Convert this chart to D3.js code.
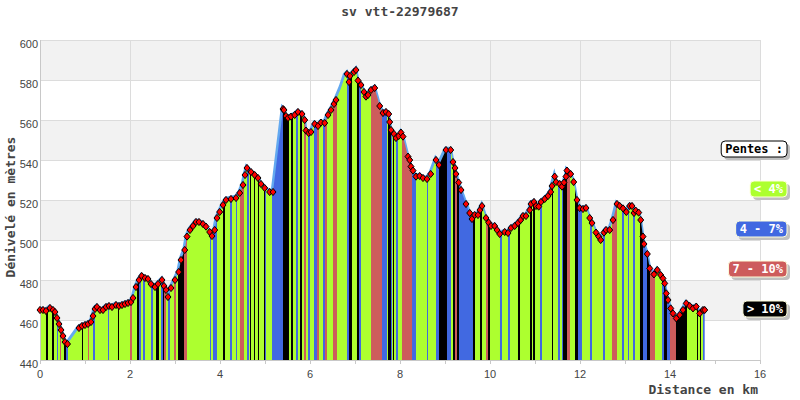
<!DOCTYPE html>
<html><head><meta charset="utf-8">
<script src="https://cdn.jsdelivr.net/npm/d3@7"></script>
<style>body{margin:0;background:#fff}svg{display:block}</style>
</head><body><svg id="c" width="800" height="400"></svg>
<script>
const title = "sv vtt-22979687";
const xTitle = "Distance en km";
const yTitle = "Dénivelé en mètres";
const xTicks = [0,1,2,3,4,5,6,7,8,9,10,11,12,13,14,15,16];
const xTickLabels = ["0","","2","","4","","6","","8","","10","","12","","14","","16"];
const yTicks = [440,460,480,500,520,540,560,580,600];
const slopeLabels = ["< 4%","4 - 7%","7 - 10%","> 10%"];
const slopeColors = ["#adff2f","#4169e1","#cd5c5c","#000000"];

const distKm = [
0,0.067,0.133,0.222,0.289,0.333,0.378,0.422,0.467,0.511,
0.556,0.611,0.867,0.933,1.0,1.067,1.133,1.178,1.222,1.267,
1.333,1.4,1.467,1.533,1.6,1.689,1.756,1.822,1.889,1.956,
2.022,2.067,2.133,2.2,2.26,2.333,2.4,2.467,2.556,2.622,
2.711,2.756,2.8,2.844,2.911,3.0,3.082,3.133,3.216,3.267,
3.333,3.4,3.467,3.533,3.622,3.689,3.771,3.822,3.882,3.933,
3.993,4.067,4.133,4.244,4.356,4.438,4.511,4.556,4.6,4.689,
4.771,4.844,4.911,4.993,5.104,5.178,5.4,5.422,5.467,5.511,
5.578,5.66,5.733,5.822,5.882,5.911,5.971,6.022,6.104,6.178,
6.244,6.327,6.4,6.467,6.533,6.578,6.689,6.778,6.822,6.867,
6.889,6.978,7.022,7.067,7.133,7.2,7.244,7.289,7.356,7.438,
7.549,7.622,7.689,7.749,7.771,7.8,7.867,7.911,7.971,8.022,
8.067,8.178,8.216,8.244,8.289,8.356,8.438,8.511,8.6,8.682,
8.8,8.867,9.022,9.127,9.178,9.222,9.244,9.304,9.356,9.467,
9.549,9.6,9.66,9.733,9.778,9.822,9.911,9.971,10.022,10.104,
10.156,10.216,10.327,10.4,10.467,10.549,10.622,10.682,10.733,10.8,
10.882,10.911,10.978,11.022,11.082,11.133,11.216,11.289,11.349,11.378,
11.438,11.467,11.549,11.6,11.644,11.689,11.711,11.793,11.86,11.933,
11.993,12.067,12.133,12.216,12.267,12.356,12.416,12.46,12.533,12.578,
12.66,12.733,12.822,12.882,12.956,13.029,13.104,13.156,13.2,13.238,
13.304,13.349,13.4,13.422,13.496,13.549,13.644,13.718,13.793,13.844,
13.882,13.918,13.956,14.016,14.067,14.14,14.216,14.289,14.362,14.438,
14.511,14.584,14.66,14.733,14.771];

const elevM = [
465,465,464.5,466,465,464,461,458,455,452,
449,448,456,457,457.5,458,459,462,465.5,466.5,
465,465,466.5,467,466.5,467.5,467,467.5,468,468.5,
469,471,476.5,480,482,481,480.5,478,476.5,478,
480,477,475,471.5,476,480,484,490,495,501.7,
505,507,509,509,508,506.7,504,502,505,511,
514,517.5,520,520.5,521,523.5,527.5,532.5,536,534,
532.5,531,528,526,524,524,565.5,565,562,561,
561.7,562.5,564,563,560,554.7,553.5,554,558,557,
558.7,558.5,562.5,565,568,570,576,582,583,579,
582,584,585,579.7,577.5,574,571.7,572.5,575,576,
567,563.5,564,563,559,555,553,551,552,553.7,
551.7,541.7,540,536.7,534.7,531.7,532,531,530.5,533,
540,537.5,545,545,539,536,533,528.7,525,518,
513.5,510.5,512.5,512.5,515,517,511,508.7,507,507,
505,503,504,503.5,506,507,508.5,510,512,512,
515,518,519,517,516.7,519,520.5,522,524,527,
531.7,529,528,526.7,528.7,531.7,534.7,533,529,520,
516,515.5,516,511,508.5,503.7,501.7,500,503.7,505,
505,510,518,517,515.8,514,517,517,513.5,514.7,
513.7,510,501.7,498,493,485.8,482.8,485,482.5,480.8,
478.3,473.3,470,465.8,463.3,460.8,462.5,465,468.3,467,
465.8,466.7,463.3,465,465];

// indices of profile points drawn without a marker
const unmarked = [96, 97];

// slope bands: start distance (km) and class (0:<4%, 1:4-7%, 2:7-10%, 3:>10%)
const bandStartKm = [
0,0.133,0.178,0.267,0.311,0.378,0.4,0.444,0.467,0.533,
0.578,0.622,0.933,0.956,1.067,1.089,1.178,1.222,1.511,1.533,
1.733,1.756,2.0,2.044,2.156,2.2,2.244,2.289,2.333,2.467,
2.511,2.578,2.644,2.689,2.733,2.756,2.8,2.844,2.889,2.978,
3.022,3.067,3.2,3.267,3.778,3.8,3.844,3.933,4.067,4.111,
4.222,4.267,4.356,4.378,4.444,4.533,4.6,4.644,4.667,4.689,
4.756,4.778,4.844,4.867,4.978,5.0,5.022,5.156,5.4,5.533,
5.578,5.622,5.689,5.733,5.778,5.822,5.867,5.911,5.956,6.0,
6.089,6.156,6.2,6.289,6.333,6.378,6.511,6.6,6.822,6.867,
6.933,7.044,7.089,7.133,7.356,7.6,7.711,7.733,7.8,7.822,
7.844,7.867,7.911,7.956,8.044,8.267,8.356,8.6,8.622,8.8,
8.867,9.044,9.133,9.178,9.222,9.267,9.311,9.622,9.667,9.778,
9.822,9.911,9.956,10.0,10.222,10.267,10.4,10.444,10.622,10.667,
10.889,10.933,10.956,11.0,11.111,11.156,11.378,11.4,11.511,11.556,
11.6,11.622,11.711,11.778,11.889,11.956,12.044,12.222,12.267,12.511,
12.556,12.711,12.822,12.933,12.978,13.067,13.089,13.178,13.222,13.333,
13.4,13.489,13.556,13.667,13.822,13.867,13.933,14.0,14.133,14.378,
14.6,14.622,14.667,14.689,14.733];
const bandClass = [
0,3,0,3,0,1,0,2,0,3,
1,0,3,0,2,0,1,0,1,0,
3,0,2,0,3,1,0,1,0,1,
0,3,0,1,3,2,0,1,0,2,
0,3,2,0,1,0,1,0,3,0,
1,0,1,0,2,0,1,0,3,0,
3,0,3,0,3,1,0,1,3,0,
3,0,1,0,3,0,2,0,1,0,
1,2,0,1,2,0,2,0,1,3,
0,3,1,0,2,1,0,3,1,0,
3,0,1,0,2,1,0,1,0,1,
3,1,0,3,2,3,1,3,0,3,
0,2,3,0,1,0,1,0,3,0,
3,0,3,0,1,0,3,0,1,0,
1,3,2,0,3,1,0,1,0,1,
0,2,0,1,0,1,0,1,0,3,
1,3,2,0,1,3,1,2,3,0,
3,0,3,0,1];

const svg = d3.select("#c");
const x = d3.scaleLinear().domain([0,16]).range([40,760]);
const y = d3.scaleLinear().domain([440,600]).range([360,40]);
const mono = "'DejaVu Sans Mono', monospace";
const sans = "'Liberation Sans', Arial, sans-serif";

// background stripes
svg.append("g").selectAll("rect").data(yTicks.slice(0,-1)).join("rect")
  .attr("x", x(0)).attr("width", x(16)-x(0))
  .attr("y", d => y(d+20)).attr("height", d => y(d)-y(d+20))
  .attr("fill", (d,i) => i % 2 === 1 ? "#f2f2f2" : "#ffffff");

// grid
const grid = svg.append("g").attr("stroke", "#dcdcdc").attr("stroke-width", 1).attr("shape-rendering","crispEdges");
grid.selectAll("line.h").data(yTicks).join("line").attr("class","h")
  .attr("x1", x(0)).attr("x2", x(16)).attr("y1", d => y(d)).attr("y2", d => y(d));
grid.selectAll("line.v").data(xTicks.filter(d => d % 2 === 0)).join("line").attr("class","v")
  .attr("x1", d => x(d)).attr("x2", d => x(d)).attr("y1", y(440)).attr("y2", y(600));

// profile
const pts = distKm.map((d,i) => ({d, e: elevM[i], i}));
svg.append("path").datum(pts)
  .attr("fill","none").attr("stroke","#63a9f0").attr("stroke-width",3.5)
  .attr("transform","translate(-0.5,-1.5)")
  .attr("d", d3.line().x(p => x(p.d)).y(p => y(p.e)));

const area = d3.area().x(p => x(p.d)).y0(y(440)).y1(p => y(p.e));
svg.append("clipPath").attr("id","prof").append("path").datum(pts).attr("d", area);

const lastKm = distKm[distKm.length-1];
const bands = bandStartKm.map((s,i) => ({s, e: i < bandStartKm.length-1 ? bandStartKm[i+1] : lastKm, c: bandClass[i]}));
svg.append("g").attr("clip-path","url(#prof)").selectAll("rect").data(bands).join("rect")
  .attr("x", b => x(b.s)).attr("width", b => x(b.e)-x(b.s)+0.3)
  .attr("y", y(600)).attr("height", y(440)-y(600))
  .attr("fill", b => slopeColors[b.c]);

// axis lines and ticks
const ax = svg.append("g").attr("stroke","#c8c8c8").attr("shape-rendering","crispEdges");
ax.append("line").attr("x1",x(0)).attr("x2",x(16)).attr("y1",y(440)).attr("y2",y(440));
ax.append("line").attr("x1",x(0)).attr("x2",x(0)).attr("y1",y(440)).attr("y2",y(600));
ax.selectAll("line.t").data(xTicks).join("line").attr("class","t")
  .attr("x1", d => x(d)).attr("x2", d => x(d)).attr("y1", y(440)).attr("y2", y(440)+4);

// markers
const diamond = "M0,-3.6L3,0L0,3.6L-3,0Z";
svg.append("g").selectAll("path").data(pts.filter(p => !unmarked.includes(p.i))).join("path")
  .attr("d", diamond)
  .attr("transform", p => `translate(${x(p.d)},${y(p.e)})`)
  .attr("fill","#ff0000").attr("stroke","#000").attr("stroke-width",1);

// tick labels
svg.append("g").selectAll("text").data(xTicks).join("text")
  .attr("x", d => x(d)).attr("y", y(440)+18)
  .attr("text-anchor","middle").attr("font-family",sans).attr("font-size",11).attr("fill","#444")
  .text((d,i) => xTickLabels[i]);
svg.append("g").selectAll("text").data(yTicks).join("text")
  .attr("x", x(0)-2).attr("y", d => y(d)+8)
  .attr("text-anchor","end").attr("font-family",sans).attr("font-size",11).attr("fill","#444")
  .text(d => d);

// titles
svg.append("text").attr("x",400).attr("y",16).attr("text-anchor","middle")
  .attr("font-family",mono).attr("font-weight","bold").attr("font-size",13).attr("fill","#444").text(title);
svg.append("text").attr("x",758).attr("y",394).attr("text-anchor","end")
  .attr("font-family",mono).attr("font-weight","bold").attr("font-size",13).attr("fill","#444").text(xTitle);
svg.append("text").attr("transform","translate(15,207) rotate(-90)").attr("text-anchor","middle")
  .attr("font-family",mono).attr("font-weight","bold").attr("font-size",13).attr("fill","#444").text(yTitle);

// legend
const legItems = [{t:"Pentes :", fill:"#ffffff", stroke:"#000", tc:"#000"}]
  .concat(slopeLabels.map((t,i) => ({t, fill: slopeColors[i], stroke:"#ffffdd", tc:"#fff"})));
const lg = svg.append("g");
legItems.forEach((it,i) => {
  const yy = 141 + i*40;
  const tmp = lg.append("text").attr("font-family",mono).attr("font-weight","bold").attr("font-size",12).text(it.t);
  const w = tmp.node().getComputedTextLength() + 8;
  tmp.remove();
  const x1 = 787 - w;
  lg.append("rect").attr("x", x1+3).attr("y", yy+3).attr("width", w).attr("height", 16).attr("rx",4).attr("fill","#c0c0c0");
  lg.append("rect").attr("x", x1).attr("y", yy).attr("width", w).attr("height", 16).attr("rx",4)
    .attr("fill", it.fill).attr("stroke", it.stroke).attr("stroke-width",1);
  lg.append("text").attr("x", x1 + w/2).attr("y", yy+12).attr("text-anchor","middle")
    .attr("font-family",mono).attr("font-weight","bold").attr("font-size",12).attr("fill", it.tc).text(it.t);
});
</script></body></html>
